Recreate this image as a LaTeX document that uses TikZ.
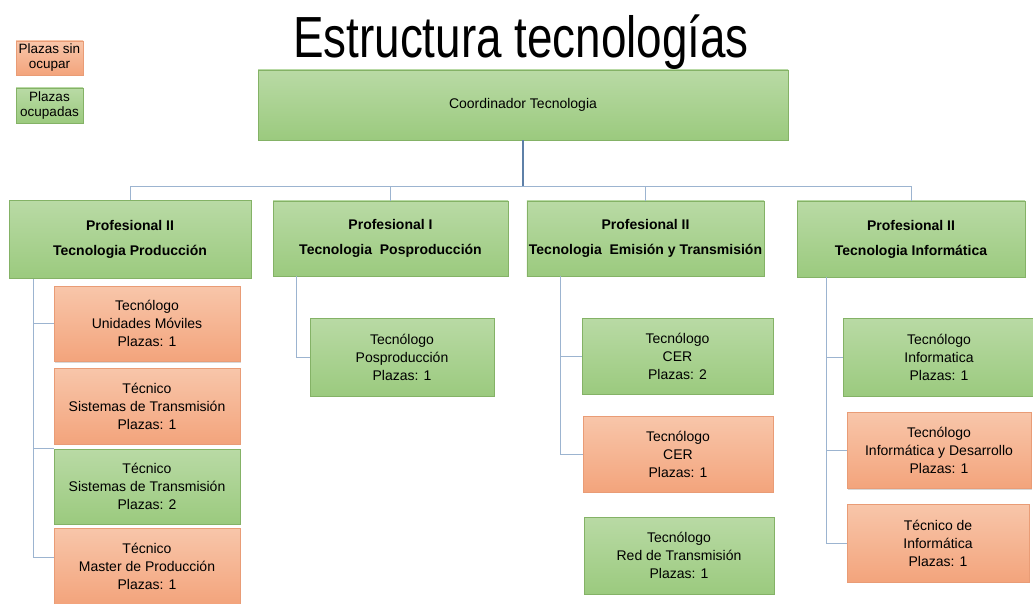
\documentclass[tikz,border=0pt]{standalone}
\usepackage{fontspec}
\setmainfont{Liberation Sans}
\usepackage{tikz}
\usetikzlibrary{positioning,shadows}

\definecolor{verdeA}{HTML}{B9DAA5}
\definecolor{verdeB}{HTML}{9BCA7E}
\definecolor{verdeL}{HTML}{84B266}
\definecolor{naranjaA}{HTML}{F8C6AA}
\definecolor{naranjaB}{HTML}{F3A47C}
\definecolor{naranjaL}{HTML}{E99C76}
\definecolor{enlaceC}{HTML}{9CB4D0}
\definecolor{enlaceD}{HTML}{5E80A8}

\begin{document}
\begin{tikzpicture}[x=1pt,y=-1pt,
		caja/.style={draw,line width=0.8pt,align=center,inner sep=2pt,font=\fontsize{14}{18}\selectfont},
		ocupada/.style={caja,top color=verdeA,bottom color=verdeB,draw=verdeL},
		libre/.style={caja,top color=naranjaA,bottom color=naranjaB,draw=naranjaL},
		sombra/.style={drop shadow={opacity=0.3,shadow xshift=1pt,shadow yshift=-2pt}},
		jefe/.style={ocupada,font=\fontsize{14}{18}\selectfont\bfseries},
		leyenda/.style={caja,line width=0.6pt,inner sep=0pt,font=\fontsize{13.5}{15}\selectfont},
		enlace/.style={draw=enlaceC,line width=1pt}]
	\clip (0,0) rectangle (1033,604);
	\fill[white] (0,0) rectangle (1033,604);
	\node (titulo) at (521,42) {\fontsize{58}{60}\selectfont\scalebox{0.79}[1]{Estructura tecnologías}};
	\node[libre,leyenda,minimum width=67pt,minimum height=34pt] (ley1) at (49.5,58) {Plazas sin\\ocupar};
	\node[ocupada,leyenda,minimum width=67pt,minimum height=35pt] (ley2) at (49.5,105.5) {Plazas\\ocupadas};
	\node[ocupada,minimum width=530pt,minimum height=70pt] (coord) at (523,105) {Coordinador Tecnologia};
	\node[jefe,minimum width=242pt,minimum height=78pt] (p1) at (130,239.5) {Profesional II\\[7pt]Tecnologia Producción};
	\node[jefe,minimum width=235pt,minimum height=75pt] (p2) at (390.5,238.5) {Profesional I\\[7pt]Tecnologia\ \ Posproducción};
	\node[jefe,minimum width=229pt,minimum height=75pt] (p3) at (645.5,238.5) {Profesional II\\[7pt]Tecnologia\ \ Emisión y Transmisión};
	\node[jefe,minimum width=228pt,minimum height=76pt] (p4) at (911,239) {Profesional II\\[7pt]Tecnologia Informática};
	\node[libre,sombra,minimum width=186pt,minimum height=75pt] (a1) at (147,323.5) {Tecnólogo\\Unidades Móviles\\Plazas: 1};
	\node[libre,minimum width=186pt,minimum height=76pt] (b1) at (147,406) {Técnico\\Sistemas de Transmisión\\Plazas: 1};
	\node[ocupada,minimum width=186pt,minimum height=75pt] (c1) at (147,486.5) {Técnico\\Sistemas de Transmisión\\Plazas: 2};
	\node[libre,minimum width=186pt,minimum height=76pt] (d1) at (147,566) {Técnico\\Master de Producción\\Plazas: 1};
	\node[ocupada,minimum width=184pt,minimum height=78pt] (a2) at (402,357) {Tecnólogo\\Posproducción\\Plazas: 1};
	\node[ocupada,minimum width=191pt,minimum height=76pt] (a3) at (677.5,356) {Tecnólogo\\CER\\Plazas: 2};
	\node[libre,minimum width=190pt,minimum height=76pt] (b3) at (678,454) {Tecnólogo\\CER\\Plazas: 1};
	\node[ocupada,minimum width=190pt,minimum height=77pt] (c3) at (679,555.5) {Tecnólogo\\Red de Transmisión\\Plazas: 1};
	\node[ocupada,minimum width=192pt,minimum height=78pt] (a4) at (939,357) {Tecnólogo\\Informatica\\Plazas: 1};
	\node[libre,sombra,minimum width=184pt,minimum height=76pt] (b4) at (939,450) {Tecnólogo\\Informática y Desarrollo\\Plazas: 1};
	\node[libre,minimum width=182pt,minimum height=78pt] (c4) at (938,543) {Técnico de\\Informática\\Plazas: 1};
	\coordinate (bus) at (523,187);
	\coordinate (t1) at ([xshift=25pt]p1.south west);
	\coordinate (t2) at ([xshift=24pt]p2.south west);
	\coordinate (t3) at ([xshift=34pt]p3.south west);
	\coordinate (t4) at ([xshift=30pt]p4.south west);
	\draw[enlace,draw=enlaceD,line width=1.3pt] (coord.south) -- (bus);
	\draw[enlace] (bus) -| (p1.north);
	\draw[enlace] (bus) -| (p2.north);
	\draw[enlace] (bus) -| (p3.north);
	\draw[enlace] (bus) -| (p4.north);
	\draw[enlace] (t1) |- (a1.west);
	\draw[enlace] (t1) |- (c1.north west);
	\draw[enlace] (t1) |- ([yshift=9pt]d1.west);
	\draw[enlace] (t2) |- (a2.west);
	\draw[enlace] (t3) |- (a3.west);
	\draw[enlace] (t3) |- (b3.west);
	\draw[enlace] (t4) |- (a4.west);
	\draw[enlace] (t4) |- (b4.west);
	\draw[enlace] (t4) |- (c4.west);
\end{tikzpicture}
\end{document}
